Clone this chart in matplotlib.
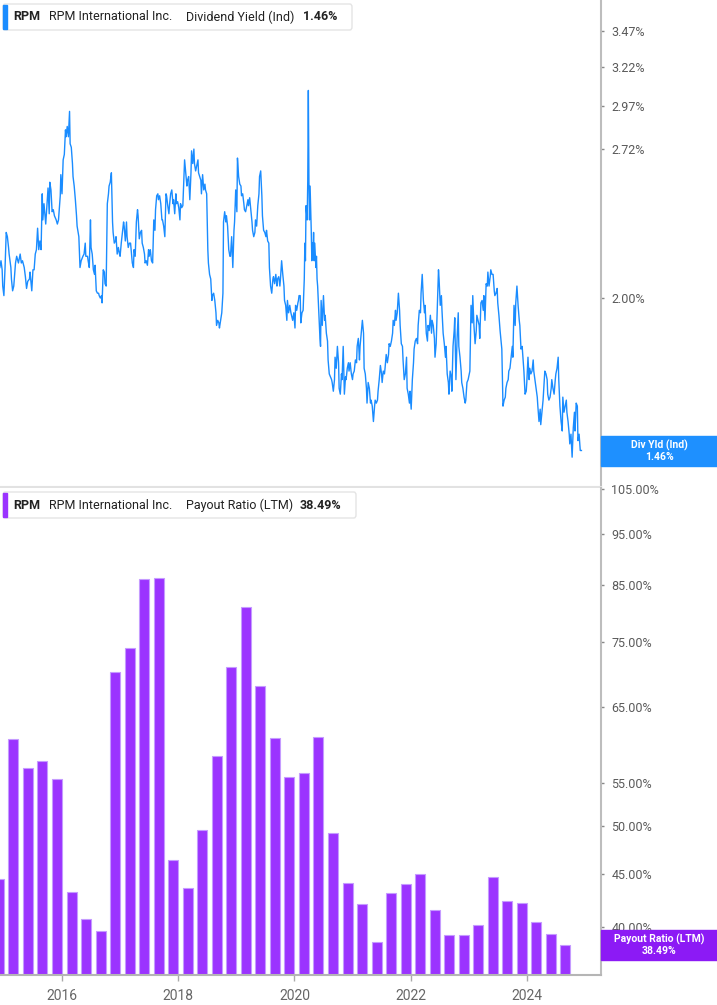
import matplotlib
matplotlib.use("Agg")
import matplotlib.pyplot as plt
from matplotlib.patches import FancyBboxPatch, Rectangle

plt.rcParams['font.family'] = ['Roboto', 'DejaVu Sans']

# dividend yield (Ind), %, decimal years
yld_dates_a = [2014.93, 2014.95, 2014.97, 2014.98, 2015.00, 2015.02, 2015.04, 2015.06, 2015.08, 2015.09,
               2015.12, 2015.13, 2015.15, 2015.17, 2015.20, 2015.22, 2015.25, 2015.28, 2015.30, 2015.32,
               2015.35, 2015.37, 2015.39, 2015.41, 2015.44, 2015.45, 2015.48, 2015.50, 2015.52, 2015.54,
               2015.56, 2015.58, 2015.60, 2015.62, 2015.64, 2015.66, 2015.67, 2015.69, 2015.71, 2015.72,
               2015.74, 2015.76, 2015.78, 2015.79, 2015.81, 2015.83, 2015.85, 2015.87, 2015.90, 2015.92,
               2015.94, 2015.97, 2015.98, 2016.00, 2016.02, 2016.04, 2016.06, 2016.07, 2016.09, 2016.11,
               2016.13, 2016.14, 2016.16, 2016.18, 2016.19, 2016.21, 2016.23, 2016.25, 2016.26, 2016.29,
               2016.31, 2016.33, 2016.36, 2016.38, 2016.40, 2016.41, 2016.44, 2016.45, 2016.47, 2016.49,
               2016.50, 2016.52, 2016.54, 2016.56, 2016.57, 2016.59, 2016.61, 2016.63, 2016.64, 2016.66,
               2016.68, 2016.69, 2016.71, 2016.73, 2016.74, 2016.76, 2016.78, 2016.80, 2016.81, 2016.83,
               2016.85, 2016.87, 2016.88, 2016.90, 2016.92, 2016.93, 2016.95, 2016.97, 2016.99, 2017.00,
               2017.02, 2017.04, 2017.06, 2017.07, 2017.09, 2017.11, 2017.12, 2017.14, 2017.16, 2017.18,
               2017.19, 2017.21, 2017.23, 2017.24, 2017.26, 2017.28, 2017.30, 2017.31, 2017.33, 2017.35,
               2017.37, 2017.38, 2017.40, 2017.42, 2017.43, 2017.45, 2017.47, 2017.49, 2017.50]
yld_a = [2.13, 2.16, 2.12, 2.05, 2.01, 2.13, 2.29, 2.27, 2.22, 2.19,
         2.13, 2.08, 2.03, 2.05, 2.15, 2.18, 2.15, 2.19, 2.15, 2.16,
         2.13, 2.09, 2.04, 2.07, 2.08, 2.11, 2.03, 2.12, 2.12, 2.19,
         2.21, 2.31, 2.21, 2.25, 2.21, 2.48, 2.35, 2.43, 2.36, 2.33,
         2.42, 2.51, 2.38, 2.54, 2.50, 2.39, 2.40, 2.37, 2.35, 2.33,
         2.35, 2.47, 2.58, 2.48, 2.66, 2.69, 2.83, 2.79, 2.85, 2.79,
         2.94, 2.75, 2.73, 2.64, 2.57, 2.52, 2.45, 2.37, 2.32, 2.27,
         2.13, 2.16, 2.18, 2.19, 2.24, 2.18, 2.18, 2.16, 2.13, 2.35,
         2.22, 2.19, 2.12, 2.10, 2.14, 2.03, 2.02, 2.02, 2.01, 2.00,
         2.01, 1.98, 2.12, 2.11, 2.06, 2.05, 2.43, 2.48, 2.52, 2.54,
         2.59, 2.34, 2.29, 2.24, 2.25, 2.27, 2.19, 2.22, 2.19, 2.18,
         2.24, 2.29, 2.34, 2.32, 2.25, 2.34, 2.27, 2.22, 2.24, 2.24,
         2.21, 2.15, 2.13, 2.21, 2.18, 2.34, 2.40, 2.37, 2.26, 2.29,
         2.30, 2.24, 2.22, 2.19, 2.15, 2.16, 2.14, 2.21, 2.18]

yld_dates_b = [2017.52, 2017.54, 2017.56, 2017.58, 2017.60, 2017.61, 2017.63, 2017.65, 2017.66, 2017.68,
               2017.70, 2017.72, 2017.73, 2017.75, 2017.77, 2017.79, 2017.80, 2017.82, 2017.84, 2017.85,
               2017.87, 2017.89, 2017.91, 2017.92, 2017.94, 2017.96, 2017.97, 2017.99, 2018.01, 2018.03,
               2018.04, 2018.06, 2018.08, 2018.09, 2018.11, 2018.13, 2018.15, 2018.16, 2018.18, 2018.20,
               2018.22, 2018.23, 2018.25, 2018.27, 2018.28, 2018.30, 2018.32, 2018.34, 2018.35, 2018.37,
               2018.39, 2018.40, 2018.42, 2018.44, 2018.46, 2018.47, 2018.49, 2018.51, 2018.52, 2018.54,
               2018.56, 2018.58, 2018.59, 2018.61, 2018.63, 2018.65, 2018.66, 2018.68, 2018.70, 2018.71,
               2018.73, 2018.75, 2018.77, 2018.78, 2018.80, 2018.82, 2018.83, 2018.85, 2018.87, 2018.89,
               2018.90, 2018.92, 2018.94, 2018.96, 2018.97, 2018.99, 2019.01, 2019.02, 2019.04, 2019.06,
               2019.08, 2019.09, 2019.11, 2019.13, 2019.14, 2019.16, 2019.18, 2019.20, 2019.21, 2019.23,
               2019.25, 2019.27, 2019.28, 2019.30, 2019.32, 2019.33, 2019.35, 2019.37, 2019.39, 2019.40,
               2019.42, 2019.44, 2019.45, 2019.47, 2019.49, 2019.51, 2019.52, 2019.54, 2019.56, 2019.57,
               2019.59, 2019.61, 2019.63, 2019.64, 2019.66, 2019.68, 2019.70, 2019.71, 2019.73, 2019.75,
               2019.76, 2019.78, 2019.80, 2019.82, 2019.83, 2019.85, 2019.87, 2019.88, 2019.90, 2019.92,
               2019.94, 2019.95, 2019.97, 2019.99, 2020.01, 2020.02, 2020.04, 2020.06, 2020.07, 2020.08]
yld_b = [2.21, 2.16, 2.15, 2.35, 2.30, 2.40, 2.47, 2.48, 2.45, 2.47,
         2.43, 2.35, 2.35, 2.32, 2.27, 2.48, 2.47, 2.42, 2.38, 2.42,
         2.48, 2.50, 2.43, 2.45, 2.38, 2.48, 2.43, 2.44, 2.41, 2.35,
         2.43, 2.41, 2.42, 2.50, 2.66, 2.59, 2.52, 2.55, 2.57, 2.45,
         2.59, 2.71, 2.64, 2.72, 2.64, 2.60, 2.63, 2.66, 2.59, 2.57,
         2.55, 2.48, 2.58, 2.50, 2.53, 2.50, 2.48, 2.21, 2.15, 2.10,
         2.08, 1.99, 2.01, 2.02, 1.99, 1.94, 1.89, 1.91, 1.90, 1.88,
         1.91, 1.94, 2.02, 2.34, 2.39, 2.34, 2.37, 2.32, 2.21, 2.18,
         2.18, 2.27, 2.13, 2.30, 2.34, 2.50, 2.39, 2.67, 2.57, 2.53,
         2.52, 2.47, 2.48, 2.43, 2.40, 2.39, 2.42, 2.45, 2.42, 2.46,
         2.40, 2.34, 2.30, 2.27, 2.29, 2.35, 2.32, 2.42, 2.48, 2.57,
         2.60, 2.47, 2.37, 2.30, 2.29, 2.27, 2.30, 2.25, 2.24, 2.13,
         2.05, 2.02, 2.08, 2.09, 2.06, 2.10, 2.05, 2.08, 2.09, 2.05,
         2.08, 2.16, 2.10, 2.05, 1.99, 1.97, 1.91, 1.99, 1.94, 1.97,
         1.94, 1.93, 1.91, 1.94, 1.88, 1.97, 1.95, 1.98, 1.99, 2.01]

yld_dates_c = [2020.10, 2020.11, 2020.13, 2020.15, 2020.17, 2020.18, 2020.19, 2020.20, 2020.22, 2020.23,
               2020.24, 2020.25, 2020.26, 2020.27, 2020.29, 2020.30, 2020.31, 2020.32, 2020.33, 2020.34,
               2020.35, 2020.37, 2020.38, 2020.39, 2020.40, 2020.42, 2020.44, 2020.45, 2020.46, 2020.48,
               2020.50, 2020.52, 2020.53, 2020.55, 2020.57, 2020.58, 2020.60, 2020.62, 2020.64, 2020.65,
               2020.67, 2020.69, 2020.70, 2020.72, 2020.74, 2020.76, 2020.77, 2020.79, 2020.81, 2020.82,
               2020.84, 2020.86, 2020.88, 2020.89, 2020.91, 2020.93, 2020.94, 2020.96, 2020.98, 2021.00,
               2021.01, 2021.03, 2021.05, 2021.07, 2021.08, 2021.10, 2021.12, 2021.13, 2021.15, 2021.17,
               2021.19, 2021.20, 2021.22, 2021.24, 2021.25, 2021.27, 2021.29, 2021.31, 2021.32, 2021.34,
               2021.36, 2021.38, 2021.39, 2021.41, 2021.43, 2021.44, 2021.46, 2021.48, 2021.50, 2021.51,
               2021.53, 2021.55, 2021.56, 2021.58, 2021.60, 2021.62, 2021.63, 2021.65, 2021.67, 2021.69,
               2021.70, 2021.72, 2021.74, 2021.75, 2021.77, 2021.79, 2021.81, 2021.82, 2021.84, 2021.86,
               2021.87, 2021.89, 2021.91, 2021.93, 2021.94, 2021.96, 2021.98, 2021.99, 2022.01, 2022.03,
               2022.05, 2022.06, 2022.08, 2022.10, 2022.12, 2022.13, 2022.15, 2022.17, 2022.18, 2022.20,
               2022.22, 2022.24, 2022.25, 2022.27, 2022.29, 2022.30, 2022.32, 2022.34, 2022.36, 2022.37,
               2022.39, 2022.41, 2022.42, 2022.44, 2022.46, 2022.48, 2022.49, 2022.51, 2022.53, 2022.54,
               2022.56, 2022.58, 2022.60, 2022.61, 2022.63, 2022.65, 2022.66]
yld_c = [2.01, 1.90, 1.94, 1.95, 2.08, 2.24, 2.16, 2.42, 2.35, 2.55,
         3.07, 2.55, 2.35, 2.52, 2.30, 2.16, 2.24, 2.19, 2.29, 2.16,
         2.24, 2.13, 2.18, 2.08, 2.05, 1.94, 1.84, 1.81, 1.99, 1.89,
         2.01, 1.91, 1.93, 1.86, 1.83, 1.76, 1.71, 1.70, 1.69, 1.68,
         1.65, 1.69, 1.77, 1.73, 1.81, 1.75, 1.66, 1.64, 1.71, 1.69,
         1.81, 1.64, 1.70, 1.69, 1.73, 1.75, 1.72, 1.75, 1.71, 1.69,
         1.71, 1.72, 1.76, 1.75, 1.81, 1.84, 1.76, 1.81, 1.86, 1.91,
         1.86, 1.73, 1.71, 1.66, 1.61, 1.68, 1.66, 1.61, 1.62, 1.60,
         1.55, 1.60, 1.62, 1.61, 1.62, 1.65, 1.69, 1.74, 1.71, 1.68,
         1.72, 1.71, 1.73, 1.78, 1.75, 1.78, 1.82, 1.81, 1.83, 1.86,
         1.91, 1.89, 1.95, 1.91, 1.94, 2.02, 1.95, 1.89, 1.82, 1.81,
         1.76, 1.69, 1.71, 1.77, 1.66, 1.64, 1.61, 1.65, 1.59, 1.69,
         1.75, 1.80, 1.83, 1.84, 1.82, 1.89, 1.95, 1.94, 2.02, 2.10,
         1.99, 1.94, 1.97, 1.86, 1.83, 1.89, 1.87, 1.93, 1.86, 1.91,
         1.89, 1.84, 1.77, 1.82, 1.97, 2.12, 2.08, 1.97, 2.01, 1.95,
         1.86, 1.82, 1.77, 1.81, 1.71, 1.68, 1.64]

yld_dates_d = [2022.68, 2022.70, 2022.71, 2022.73, 2022.75, 2022.76, 2022.78, 2022.80, 2022.82, 2022.83,
               2022.85, 2022.87, 2022.88, 2022.90, 2022.92, 2022.94, 2022.95, 2022.97, 2022.99, 2023.01,
               2023.02, 2023.04, 2023.06, 2023.07, 2023.09, 2023.11, 2023.13, 2023.14, 2023.16, 2023.18,
               2023.19, 2023.21, 2023.23, 2023.25, 2023.26, 2023.28, 2023.30, 2023.32, 2023.33, 2023.35,
               2023.37, 2023.38, 2023.40, 2023.42, 2023.44, 2023.45, 2023.47, 2023.49, 2023.50, 2023.52,
               2023.54, 2023.56, 2023.57, 2023.59, 2023.61, 2023.63, 2023.64, 2023.66, 2023.68, 2023.69,
               2023.71, 2023.73, 2023.75, 2023.76, 2023.78, 2023.80, 2023.81, 2023.83, 2023.85, 2023.87,
               2023.88, 2023.90, 2023.92, 2023.93, 2023.95, 2023.97, 2023.99, 2024.00, 2024.02, 2024.04,
               2024.05, 2024.07, 2024.09, 2024.11, 2024.12, 2024.14, 2024.16, 2024.18, 2024.19, 2024.21,
               2024.23, 2024.24, 2024.26, 2024.28, 2024.30, 2024.31, 2024.33, 2024.35, 2024.36, 2024.38,
               2024.40, 2024.42, 2024.43, 2024.45, 2024.47, 2024.49, 2024.50, 2024.52, 2024.54, 2024.55,
               2024.57, 2024.59, 2024.61, 2024.62, 2024.64, 2024.66, 2024.68, 2024.69, 2024.71, 2024.73,
               2024.74, 2024.76, 2024.78, 2024.80, 2024.82, 2024.83, 2024.85, 2024.87, 2024.88, 2024.90,
               2024.92, 2024.94]
yld_d = [1.72, 1.70, 1.65, 1.81, 1.87, 1.92, 1.69, 1.84, 1.94, 1.81,
         1.77, 1.72, 1.68, 1.66, 1.63, 1.61, 1.62, 1.68, 1.69, 1.71,
         1.72, 1.97, 1.90, 2.01, 1.89, 1.82, 1.87, 1.93, 1.91, 1.89,
         1.84, 1.98, 1.99, 1.95, 2.01, 1.91, 2.06, 2.05, 2.11, 2.05,
         2.09, 2.12, 2.10, 2.10, 2.03, 2.01, 2.02, 2.04, 1.98, 1.93,
         1.87, 1.82, 1.80, 1.60, 1.62, 1.63, 1.66, 1.68, 1.69, 1.72,
         1.73, 1.77, 1.81, 1.77, 1.97, 1.89, 1.98, 2.05, 1.97, 1.91,
         1.89, 1.80, 1.81, 1.78, 1.72, 1.64, 1.65, 1.68, 1.77, 1.69,
         1.73, 1.71, 1.72, 1.76, 1.72, 1.69, 1.66, 1.63, 1.60, 1.55,
         1.59, 1.54, 1.58, 1.62, 1.69, 1.72, 1.71, 1.69, 1.64, 1.62,
         1.63, 1.66, 1.69, 1.66, 1.64, 1.69, 1.71, 1.73, 1.77, 1.69,
         1.60, 1.55, 1.52, 1.63, 1.58, 1.60, 1.62, 1.58, 1.55, 1.51,
         1.48, 1.51, 1.44, 1.53, 1.58, 1.52, 1.61, 1.60, 1.49, 1.51,
         1.46, 1.46]

yld_dates = yld_dates_a + yld_dates_b + yld_dates_c + yld_dates_d
yld = yld_a + yld_b + yld_c + yld_d

# payout ratio (LTM), %, one bar per quarter end
payout_dates = [2015.00, 2015.25, 2015.50, 2015.75, 2016.00, 2016.25, 2016.50, 2016.75,
                2017.00, 2017.25, 2017.50, 2017.75, 2018.00, 2018.25, 2018.50, 2018.75,
                2019.00, 2019.25, 2019.50, 2019.75, 2020.00, 2020.25, 2020.50, 2020.75,
                2021.00, 2021.25, 2021.50, 2021.75, 2022.00, 2022.25, 2022.50, 2022.75,
                2023.00, 2023.25, 2023.50, 2023.75, 2024.00, 2024.25, 2024.50, 2024.75]
payout = [44.5, 60.5, 56.8, 57.7, 55.4, 43.2, 40.7, 39.7,
          70.2, 74.0, 86.1, 86.3, 46.4, 43.6, 49.5, 58.3,
          70.9, 81.0, 68.0, 60.7, 55.7, 56.2, 60.8, 49.2,
          44.1, 42.1, 38.7, 43.1, 44.0, 45.0, 41.5, 39.3,
          39.3, 40.2, 44.7, 42.4, 42.2, 40.5, 39.4, 38.49]

yld_ticks = [2.00, 2.72, 2.97, 3.22, 3.47]
payout_ticks = [40, 45, 50, 55, 65, 75, 85, 95, 105]
year_ticks = [2016, 2018, 2020, 2022, 2024]

BLUE = '#1a8cff'
PURPLE = '#9b33ff'
W, H = 717, 1005

fig = plt.figure(figsize=(W / 100, H / 100), dpi=100)

def fx(x):
    return x / W

def fy(y):
    return 1 - y / H

ax1 = fig.add_axes([0, fy(487), fx(601), 487 / H])
ax2 = fig.add_axes([0, fy(975), fx(601), (975 - 488) / H])

for ax in (ax1, ax2):
    ax.set_yscale('log')
    ax.set_xlim(2014.933, 2025.277)
    ax.spines['left'].set_visible(False)
    ax.spines['top'].set_visible(False)
    ax.spines['right'].set_color('#bdbdbd')
    ax.spines['right'].set_linewidth(1.5)
    ax.yaxis.tick_right()
    ax.yaxis.set_minor_locator(plt.NullLocator())
    ax.tick_params(axis='y', which='major', labelsize=9, labelcolor='#5a5a5a',
                   color='#888888', length=2.5, width=1, pad=5)
    ax.set_facecolor('white')

# top: dividend yield
ax1.plot(yld_dates, yld, color=BLUE, lw=1.0)
ax1.set_ylim(1.354, 3.70)
ax1.set_yticks(yld_ticks)
ax1.set_yticklabels([f'{v:.2f}%' for v in yld_ticks])
ax1.tick_params(axis='x', bottom=False, labelbottom=False)
ax1.spines['bottom'].set_color('#e2e2e2')
ax1.spines['bottom'].set_linewidth(1.5)

# bottom: payout ratio bars
base = 36.0
ax2.bar(payout_dates, [v - base for v in payout], bottom=base, width=-0.172,
        align='edge', color=PURPLE, edgecolor='#c59bff', linewidth=0.8)
ax2.set_ylim(base, 105.2)
ax2.set_yticks(payout_ticks)
ax2.set_yticklabels([f'{v:.2f}%' for v in payout_ticks])
ax2.set_xticks(year_ticks)
ax2.set_xticklabels([str(y) for y in year_ticks])
ax2.tick_params(axis='x', labelsize=10, labelcolor='#666666', color='#aaaaaa',
                length=4, width=1, pad=6)
ax2.spines['bottom'].set_color('#b5b5b5')
ax2.spines['bottom'].set_linewidth(1.5)

# header boxes
def header(y_top, y_bot, color, metric, value, x_right, x_metric, x_value):
    fig.patches.append(FancyBboxPatch((fx(3), fy(y_bot)), fx(x_right - 3), (y_bot - y_top) / H,
                                      boxstyle='round,pad=0,rounding_size=0.003',
                                      transform=fig.transFigure, fc='white', ec='#e4e4e4', lw=1))
    fig.patches.append(Rectangle((fx(3), fy(y_bot - 1)), fx(3.5), (y_bot - y_top - 2) / H,
                                 transform=fig.transFigure, color=color))
    yc = fy((y_top + y_bot) / 2)
    fig.text(fx(13), yc, 'RPM', fontsize=9, fontweight='bold', color='#222222', va='center')
    fig.text(fx(49), yc, 'RPM International Inc.', fontsize=9, color='#222222', va='center')
    fig.text(fx(x_metric), yc, metric, fontsize=9, color='#222222', va='center')
    fig.text(fx(x_value), yc, value, fontsize=9, fontweight='bold', color='#222222', va='center')

header(4, 30, BLUE, 'Dividend Yield (Ind)', '1.46%', 352, 186, 303)
header(492, 518, PURPLE, 'Payout Ratio (LTM)', '38.49%', 356, 186, 300)

# last value labels on the right
def last_label(y_top, y_bot, color, text):
    fig.patches.append(Rectangle((fx(601), fy(y_bot)), fx(717 - 601), (y_bot - y_top) / H,
                                 transform=fig.transFigure, color=color))
    fig.text(fx(659), fy((y_top + y_bot) / 2), text, fontsize=7.5, fontweight='bold',
             color='white', ha='center', va='center', linespacing=1.05)

last_label(436, 466, '#1e90ff', 'Div Yld (Ind)\n1.46%')
last_label(930, 960, '#8c1af5', 'Payout Ratio (LTM)\n38.49%')

fig.savefig('out.png', dpi=100, facecolor='white')
